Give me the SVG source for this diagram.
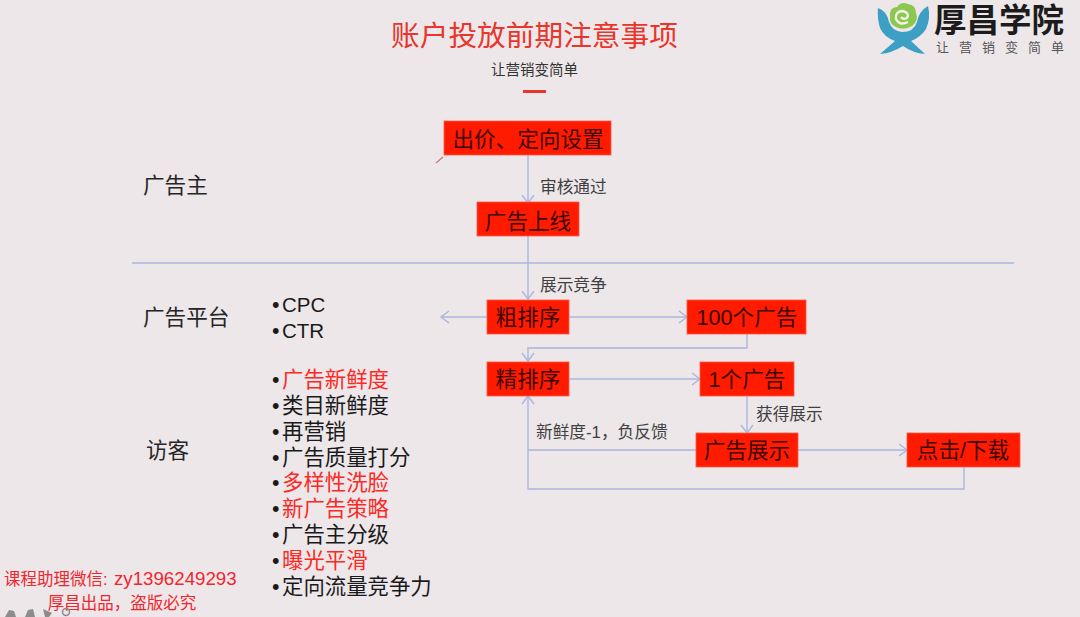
<svg xmlns="http://www.w3.org/2000/svg" width="1080" height="617" viewBox="0 0 1080 617">
<style>
text{font-family:"Liberation Sans","Noto Sans CJK SC",sans-serif;fill:#1a1a1a}
.box{fill:#fe1b00;stroke:#ff5a45;stroke-width:.8}
.bt{font-size:21.6px;text-anchor:middle;fill:#3f0400}
.lane{font-size:21.6px;fill:#262626}
.li{font-size:21.4px}
.lat{font-size:20.5px}
.red{fill:#fb2a25}
.sm{font-size:16.7px;fill:#404040}
.wm{font-size:16.5px;fill:#f0262c}
.c{fill:none;stroke:#a9b7db;stroke-width:1.4}
</style>
<defs><marker id="a" markerUnits="userSpaceOnUse" markerWidth="14" markerHeight="14" refX="11" refY="7" orient="auto"><path d="M3 1L11 7L3 13" fill="none" stroke="#a9b7db" stroke-width="1.4"/></marker></defs>
<rect width="1080" height="617" fill="#ede7ea"/>
<g id="header">
<text x="534.500" y="46" font-size="28.700" text-anchor="middle" style="fill:#e9352b">账户投放前期注意事项</text>
<text x="534.500" y="75" font-size="14.500" text-anchor="middle" style="fill:#333">让营销变简单</text>
<rect x="523" y="90" width="23" height="3" fill="#e9352b"/>
</g>
<g id="logo">
<path d="M878 8Q887 11 889 22Q892 31 902 32Q914 32 917 22Q919 11 928 6Q931 18 926 29Q921 37 911 41L925 54Q913 53 903 46Q892 53 880 54L895 41Q884 37 880 28Q877 18 878 8Z" fill="#3e9fc4"/>
<path d="M890 17Q889 7 897 7Q901 1 908 4Q916 5 916 13Q919 21 912 26Q904 31 896 27Q889 24 890 17Z" fill="#8cc850"/>
<path d="M908 22Q899 26 896 19Q895 11 903 11Q910 13 907 18Q903 20 901 17" fill="none" stroke="#f0f3e4" stroke-width="2.400"/>
<text x="934" y="32" font-size="32.500" style="fill:#1c1c1c;font-weight:700">厚昌学院</text>
<text x="936" y="52" font-size="13" letter-spacing="10" style="fill:#555">让营销变简单</text>
</g>
<g id="connectors">
<path class="c" d="M132 263H1014"/>
<path class="c" d="M528 155V203" marker-end="url(#a)"/>
<path class="c" d="M528 236V299" marker-end="url(#a)"/>
<path class="c" d="M487 317H441" marker-end="url(#a)"/>
<path class="c" d="M569 317H687" marker-end="url(#a)"/>
<path class="c" d="M747 334V348H528V361" marker-end="url(#a)"/>
<path class="c" d="M569 379H700" marker-end="url(#a)"/>
<path class="c" d="M747 396V433" marker-end="url(#a)"/>
<path class="c" d="M696 450H528V396" marker-end="url(#a)"/>
<path class="c" d="M798 450H907" marker-end="url(#a)"/>
<path class="c" d="M964 467V489H528V450"/>
</g>
<g id="n1"><rect class="box" x="444" y="121" width="167" height="34"/><text class="bt" x="528" y="147">出价、定向设置</text></g>
<path d="M443 157L436 163" stroke="#c77" stroke-width="1.200"/>
<g id="n2"><rect class="box" x="477" y="202" width="102" height="34"/><text class="bt" x="528" y="229">广告上线</text></g>
<g id="n3"><rect class="box" x="487" y="300" width="82" height="34"/><text class="bt" x="528" y="325">粗排序</text></g>
<g id="n4"><rect class="box" x="687" y="300" width="119" height="34"/><text class="bt" x="747" y="325">100个广告</text></g>
<g id="n5"><rect class="box" x="487" y="362" width="82" height="34"/><text class="bt" x="528" y="387">精排序</text></g>
<g id="n6"><rect class="box" x="700" y="362" width="94" height="34"/><text class="bt" x="747" y="387">1个广告</text></g>
<g id="n7"><rect class="box" x="696" y="433" width="102" height="34"/><text class="bt" x="747" y="458">广告展示</text></g>
<g id="n8"><rect class="box" x="907" y="433" width="113" height="34"/><text class="bt" x="963" y="458">点击/下载</text></g>
<g id="labels">
<text class="sm" x="540" y="193">审核通过</text>
<text class="sm" x="540" y="291">展示竞争</text>
<text class="sm" x="756" y="420">获得展示</text>
<text class="sm" x="536" y="438">新鲜度-1，负反馈</text>
<text class="lane" x="143" y="193">广告主</text>
<text class="lane" x="143" y="325">广告平台</text>
<text class="lane" x="146" y="458">访客</text>
</g>
<g id="lists">
<text class="li" x="272" y="312">•<tspan class="lat" x="282">CPC</tspan></text>
<text class="li" x="272" y="338">•<tspan class="lat" x="282">CTR</tspan></text>
<text class="li" x="272" y="387">•<tspan class="red" x="282">广告新鲜度</tspan></text>
<text class="li" x="272" y="413">•<tspan x="282">类目新鲜度</tspan></text>
<text class="li" x="272" y="439">•<tspan x="282">再营销</tspan></text>
<text class="li" x="272" y="465">•<tspan x="282">广告质量打分</tspan></text>
<text class="li" x="272" y="490">•<tspan class="red" x="282">多样性洗脸</tspan></text>
<text class="li" x="272" y="516">•<tspan class="red" x="282">新广告策略</tspan></text>
<text class="li" x="272" y="542">•<tspan x="282">广告主分级</tspan></text>
<text class="li" x="272" y="568">•<tspan class="red" x="282">曝光平滑</tspan></text>
<text class="li" x="272" y="594">•<tspan x="282">定向流量竞争力</tspan></text>
</g>
<g id="watermark">
<text class="wm" x="4" y="585">课程助理微信:<tspan x="114" font-size="18.700">zy1396249293</tspan></text>
<text class="wm" x="122" y="609" text-anchor="middle">厚昌出品，盗版必究</text>
</g>
<g id="toolbar" fill="#8c8c8c">
<path d="M5 617L9 610L14 611L16 617Z"/>
<path d="M25 617L28 610L33 609L35 617Z"/>
<path d="M43 609L52 613L49 617H45Z"/>
<circle cx="66" cy="612" r="3.500" fill="none" stroke="#8c8c8c" stroke-width="1.500"/>
</g>
</svg>
